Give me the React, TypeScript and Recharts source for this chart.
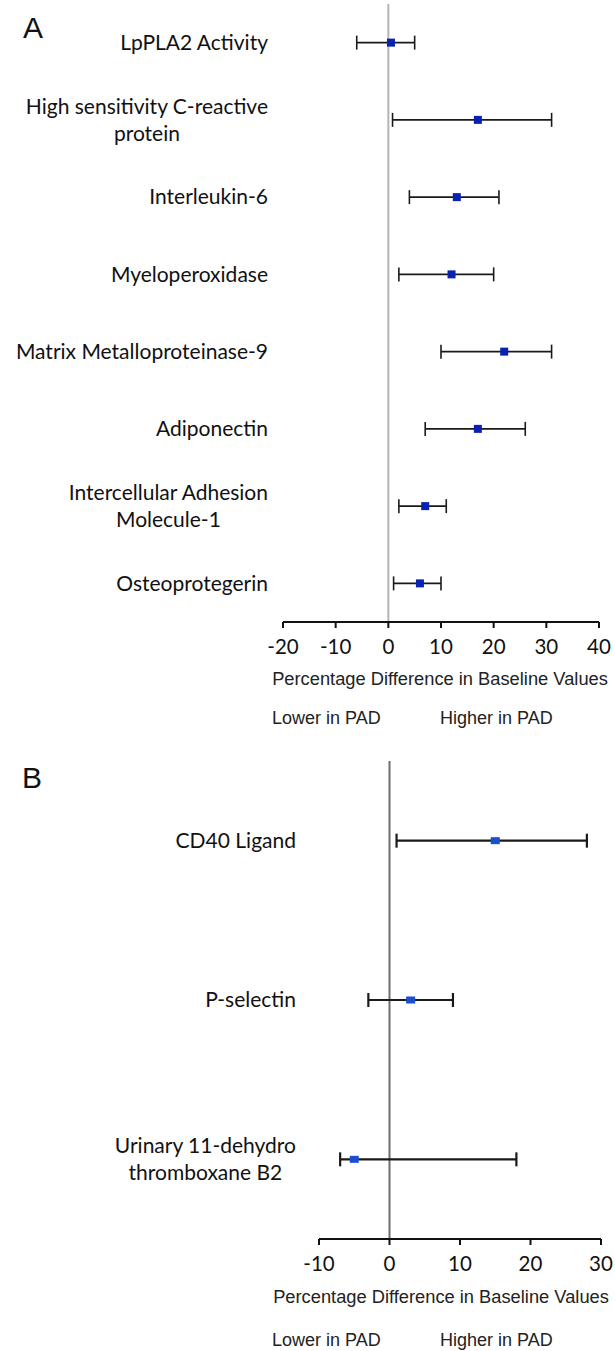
import { useLayoutEffect, useRef, useState } from "react"
import {
  ScatterChart,
  Scatter,
  XAxis,
  YAxis,
  ErrorBar,
  ReferenceLine,
} from "recharts"

// panel A: inflammatory markers
const panelALabels = [
  "LpPLA2 Activity",
  "High sensitivity C-reactive\nprotein",
  "Interleukin-6",
  "Myeloperoxidase",
  "Matrix Metalloproteinase-9",
  "Adiponectin",
  "Intercellular Adhesion\nMolecule-1",
  "Osteoprotegerin",
]
const panelAMean = [0.5, 17, 13, 12, 22, 17, 7, 6]
const panelALow = [-6, 0.8, 4, 2, 10, 7, 2, 1]
const panelAHigh = [5, 31, 21, 20, 31, 26, 11, 10]
const panelATicks = [-20, -10, 0, 10, 20, 30, 40]

// panel B: platelet markers
const panelBLabels = ["CD40 Ligand", "P-selectin", "Urinary 11-dehydro\nthromboxane B2"]
const panelBMean = [15, 3, -5]
const panelBLow = [1, -3, -7]
const panelBHigh = [28, 9, 18]
const panelBTicks = [-10, 0, 10, 20, 30]

const AXIS_TITLE = "Percentage Difference in Baseline Values"
const LABEL_FONT = 'Lato, "Open Sans", sans-serif'
const ARIAL = '"Liberation Sans", Arial, sans-serif'

function buildRows(mean: number[], low: number[], high: number[]) {
  return mean.map((m, i) => ({
    row: i + 1,
    mean: m,
    err: [m - low[i], high[i] - m],
  }))
}

function CategoryTick(props: any) {
  const { x, y, payload, labels } = props
  const lines = String(labels[payload.value - 1] ?? "").split("\n")
  const firstRef = useRef<SVGTextElement>(null)
  const [w, setW] = useState(0)

  useLayoutEffect(() => {
    if (firstRef.current) setW(firstRef.current.getComputedTextLength())
  }, [x, payload.value])

  return (
    <g>
      {lines.map((line, i) => {
        const first = i === 0
        return (
          <text
            key={i}
            ref={first ? firstRef : undefined}
            x={first ? x : x - w / 2}
            y={y + (i - (lines.length - 1) / 2) * 27}
            dy="0.35em"
            textAnchor={first ? "end" : "middle"}
            fontFamily={LABEL_FONT}
            fontSize={21}
            fill="#111"
          >
            {line}
          </text>
        )
      })}
    </g>
  )
}

function BlueSquare(props: any) {
  const { cx, cy, w, h, fill } = props
  return <rect x={cx - w / 2} y={cy - h / 2} width={w} height={h} fill={fill} />
}

interface ForestProps {
  labels: string[]
  mean: number[]
  low: number[]
  high: number[]
  ticks: number[]
  height: number
  top: number
  axisHeight: number
  yWidth: number
  right: number
  labelGap: number
  zeroColor: string
  markerColor: string
  markerW: number
  markerH: number
  barWidth: number
}

function Forest(p: ForestProps) {
  const data = buildRows(p.mean, p.low, p.high)
  return (
    <ScatterChart
      width={615}
      height={p.height}
      margin={{ top: p.top, right: p.right, bottom: 0, left: 0 }}
    >
      <XAxis
        type="number"
        dataKey="mean"
        domain={[p.ticks[0], p.ticks[p.ticks.length - 1]]}
        ticks={p.ticks}
        interval={0}
        height={p.axisHeight}
        axisLine={{ stroke: "#111", strokeWidth: 2 }}
        tickLine={{ stroke: "#111", strokeWidth: 2 }}
        tickSize={6}
        tickMargin={11}
        tick={{ fontFamily: LABEL_FONT, fontSize: 20.5, fill: "#111" }}
      />
      <YAxis
        type="number"
        dataKey="row"
        domain={[0.5, p.labels.length + 0.5]}
        ticks={p.labels.map((_, i) => i + 1)}
        interval={0}
        reversed
        width={p.yWidth}
        axisLine={false}
        tickLine={false}
        tickSize={0}
        tickMargin={p.labelGap}
        tick={<CategoryTick labels={p.labels} />}
      />
      <ReferenceLine x={0} stroke={p.zeroColor} strokeWidth={2} />
      <Scatter
        data={data}
        isAnimationActive={false}
        shape={<BlueSquare w={p.markerW} h={p.markerH} fill={p.markerColor} />}
      >
        <ErrorBar
          dataKey="err"
          direction="x"
          width={7}
          stroke="#1a1a1a"
          strokeWidth={p.barWidth}
          isAnimationActive={false}
        />
      </Scatter>
    </ScatterChart>
  )
}

function TextAt({ x, y, children, size = 18, anchor = "start" }: any) {
  const shift = anchor === "middle" ? "-50%" : "0"
  return (
    <div
      style={{
        position: "absolute",
        left: x,
        top: y - 10,
        transform: `translateX(${shift})`,
        whiteSpace: "nowrap",
        fontFamily: ARIAL,
        fontSize: size,
        lineHeight: "20px",
        color: "#222",
      }}
    >
      {children}
    </div>
  )
}

export default function App() {
  return (
    <div
      style={{
        position: "absolute",
        left: 0,
        top: 0,
        width: 615,
        height: 1351,
        background: "#fff",
        overflow: "hidden",
      }}
    >
      <div style={{ position: "absolute", left: 0, top: 0 }}>
        <Forest
          labels={panelALabels}
          mean={panelAMean}
          low={panelALow}
          high={panelAHigh}
          ticks={panelATicks}
          height={735}
          top={4}
          axisHeight={113}
          yWidth={283}
          right={16}
          labelGap={15}
          zeroColor="#b5b5b5"
          markerColor="#0a22b0"
          markerW={8}
          markerH={8}
          barWidth={1.6}
        />
      </div>
      <div style={{ position: "absolute", left: 0, top: 735 }}>
        <Forest
          labels={panelBLabels}
          mean={panelBMean}
          low={panelBLow}
          high={panelBHigh}
          ticks={panelBTicks}
          height={616}
          top={26}
          axisHeight={112}
          yWidth={319}
          right={14}
          labelGap={23}
          zeroColor="#6e6e6e"
          markerColor="#1a4fd0"
          markerW={9}
          markerH={7}
          barWidth={2.2}
        />
      </div>

      <div
        style={{
          position: "absolute",
          left: 23,
          top: 11,
          fontFamily: ARIAL,
          fontSize: 30,
          lineHeight: "34px",
          color: "#111",
        }}
      >
        A
      </div>
      <div
        style={{
          position: "absolute",
          left: 22,
          top: 761,
          fontFamily: ARIAL,
          fontSize: 30,
          lineHeight: "34px",
          color: "#111",
        }}
      >
        B
      </div>

      <TextAt x={440} y={679} size={18.3} anchor="middle">{AXIS_TITLE}</TextAt>
      <TextAt x={272} y={718}>Lower in PAD</TextAt>
      <TextAt x={440} y={718}>Higher in PAD</TextAt>

      <TextAt x={441} y={1297} size={18.3} anchor="middle">{AXIS_TITLE}</TextAt>
      <TextAt x={272} y={1340}>Lower in PAD</TextAt>
      <TextAt x={440} y={1340}>Higher in PAD</TextAt>
    </div>
  )
}
